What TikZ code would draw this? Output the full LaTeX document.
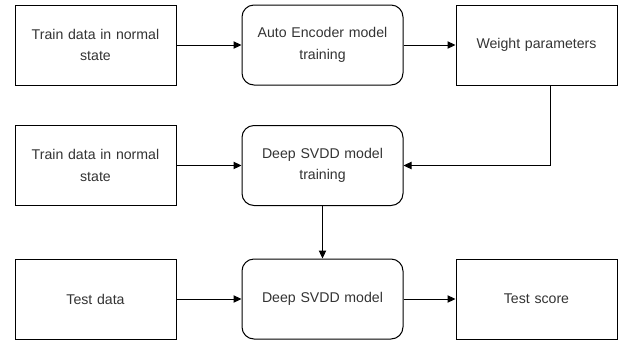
\documentclass[tikz,border=0pt]{standalone}
\usepackage{fontspec}
\setmainfont{Liberation Sans}
\usetikzlibrary{arrows.meta}
\begin{document}
\begin{tikzpicture}[x=0.75pt,y=-0.75pt,
  box/.style={draw, line width=0.75pt, minimum width=161*0.75pt, minimum height=80*0.75pt, align=center, font=\fontsize{10.6}{16}\selectfont, text=black!80, inner sep=0pt, text width=155*0.75pt},
  rbox/.style={box, rounded corners=9pt},
  arr/.style={-{Triangle[length=6pt,width=5.5pt]}, line width=0.75pt}]
\useasboundingbox (0,0) rectangle (622,340);
\node[box]  (a1) at (95.5,45)  {Train data in normal\\state};
\node[rbox] (a2) at (322.5,45) {Auto Encoder model\\training};
\node[box]  (a3) at (536.5,45) {Weight parameters};
\node[box]  (b1) at (95.5,165.5)  {Train data in normal\\state};
\node[rbox] (b2) at (322.5,165.5) {Deep SVDD model\\training};
\node[box]  (c1) at (95.5,299)  {Test data};
\node[rbox] (c2) at (322.5,299) {Deep SVDD model};
\node[box]  (c3) at (536.5,299) {Test score};
\coordinate (k) at (550,165.5);
\draw[arr] (a1) -- (a2);
\draw[arr] (a2) -- (a3);
\draw[arr] (a3.south -| k) -- (k) -- (b2.east);
\draw[arr] (b1) -- (b2);
\draw[arr] (b2) -- (c2);
\draw[arr] (c1) -- (c2);
\draw[arr] (c2) -- (c3);
\end{tikzpicture}
\end{document}
